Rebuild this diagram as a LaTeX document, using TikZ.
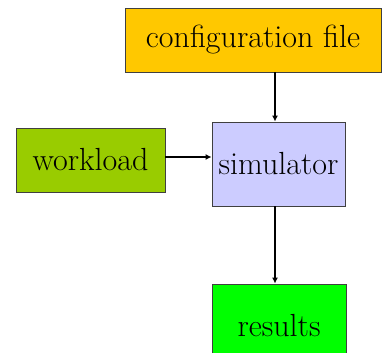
\documentclass[tikz,border=0pt]{standalone}
\usepackage{tikz}
\usetikzlibrary{arrows.meta}
\definecolor{cfgcolor}{RGB}{255,200,0}
\definecolor{wlcolor}{RGB}{153,204,0}
\definecolor{simcolor}{RGB}{204,204,255}
\definecolor{rescolor}{RGB}{0,255,0}
\tikzstyle{block}=[draw=black!75,line width=.9pt,inner sep=0pt,font=\fontsize{32}{38}\selectfont]
\tikzstyle{flow}=[line width=1.5pt,-{Latex[length=6pt,width=6pt]}]

\begin{document}
\begin{tikzpicture}[x=1pt,y=-1pt]
	\useasboundingbox[fill=white] (0,0) rectangle (383,353);
	\node[block,fill=cfgcolor,minimum width=256pt,minimum height=64pt] (cfg) at (253,40) {configuration file};
	\node[block,fill=simcolor,minimum width=133pt,minimum height=84pt] (sim) at (278.5,164) {simulator};
	\node[block,fill=wlcolor,minimum width=149pt,minimum height=64pt] (wl) at (90.5,160) {workload};
	\node[block,fill=rescolor,minimum width=134pt,minimum height=84pt] (res) at (279,326) {results};
	\draw[flow] ([xshift=-3.5pt]sim.north |- cfg.south) -- ([xshift=-3.5pt]sim.north);
	\draw[flow] ([yshift=3pt]wl.east) -- ([yshift=3pt]wl.east -| sim.west);
	\draw[flow] ([xshift=-3.5pt]sim.south) -- ([xshift=-3.5pt]sim.south |- res.north);
\end{tikzpicture}
\end{document}
